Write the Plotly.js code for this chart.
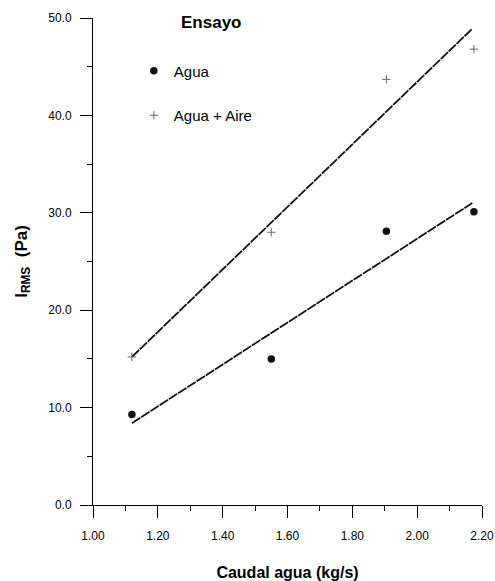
<!DOCTYPE html>
<html>
<head>
<meta charset="utf-8">
<script src="https://cdn.plot.ly/plotly-3.0.1.min.js"></script>
<style>html,body{margin:0;padding:0;background:#fff;}#chart{width:495px;height:581px;}</style>
</head>
<body>
<div id="chart"></div>
<script>
// Data
const caudal = [1.12, 1.55, 1.905, 2.175];
const agua = [9.3, 15.0, 28.1, 30.1];
const aguaAire = [15.2, 28.0, 43.7, 46.8];
const fitX = [1.12, 2.17];
const aguaFit = [8.4, 31.0];
const aireFit = [15.2, 48.9];
const xTickVals = [1.0, 1.2, 1.4, 1.6, 1.8, 2.0, 2.2];
const xTickText = ['1.00', '1.20', '1.40', '1.60', '1.80', '2.00', '2.20'];
const yTickVals = [0, 10, 20, 30, 40, 50];
const yTickText = ['0.0', '10.0', '20.0', '30.0', '40.0', '50.0'];

const font = 'Liberation Sans, Arial, sans-serif';

const traces = [
  {x: fitX, y: aguaFit, mode: 'lines', line: {color: '#111', width: 1.8, dash: '10px,1px'}, showlegend: false, hoverinfo: 'skip'},
  {x: fitX, y: aireFit, mode: 'lines', line: {color: '#111', width: 1.8, dash: '10px,1px'}, showlegend: false, hoverinfo: 'skip'},
  {x: caudal, y: agua, mode: 'markers', name: 'Agua', legendgroup: 'a',
   marker: {symbol: 'circle', size: 7.5, color: '#111'}},
  {x: caudal, y: aguaAire, mode: 'markers', name: 'Agua + Aire', legendgroup: 'b',
   marker: {symbol: 'cross-thin-open', size: 6, color: '#666', line: {color: '#666', width: 1}}}
];

const layout = {
  width: 495, height: 581,
  margin: {l: 93, r: 13, t: 18, b: 76},
  paper_bgcolor: '#fff', plot_bgcolor: '#fff',
  font: {family: font, color: '#000', size: 12},
  showlegend: true,
  legend: {x: 0.105, y: 0.925, xanchor: 'left', yanchor: 'top', bgcolor: 'rgba(0,0,0,0)',
           font: {size: 15, family: font}, tracegroupgap: 22, itemwidth: 30},
  xaxis: {
    range: [1.0, 2.2], tickmode: 'array', tickvals: xTickVals, ticktext: xTickText,
    showgrid: false, zeroline: false, showline: true, linecolor: '#000', linewidth: 1,
    ticks: 'outside', ticklen: 12, tickwidth: 1, tickcolor: '#000', ticklabelstandoff: 8,
    tickfont: {size: 12},
    minor: {dtick: 0.1, tick0: 1.0, ticks: 'outside', ticklen: 5, tickcolor: '#000', showgrid: false},
    title: {text: '<b>Caudal agua (kg/s)</b>', font: {size: 16}, standoff: 25},
    fixedrange: true
  },
  yaxis: {
    range: [0, 50], tickmode: 'array', tickvals: yTickVals, ticktext: yTickText,
    showgrid: false, zeroline: false, showline: true, linecolor: '#000', linewidth: 1,
    ticks: 'outside', ticklen: 12, tickwidth: 1, tickcolor: '#000', ticklabelstandoff: 6,
    tickfont: {size: 12},
    minor: {dtick: 5, tick0: 0, ticks: 'outside', ticklen: 5, tickcolor: '#000', showgrid: false},
    title: {text: '<b>I<sub>RMS</sub>  (Pa)</b>', font: {size: 17}, standoff: 16},
    fixedrange: true
  },
  annotations: [
    {text: '<b>Ensayo</b>', xref: 'paper', yref: 'paper', x: (211 - 93) / 389, y: (505 - 22) / 487,
     xanchor: 'center', yanchor: 'middle', showarrow: false, font: {size: 17, family: font}}
  ]
};

Plotly.newPlot('chart', traces, layout, {displayModeBar: false, staticPlot: true});
</script>
</body>
</html>
